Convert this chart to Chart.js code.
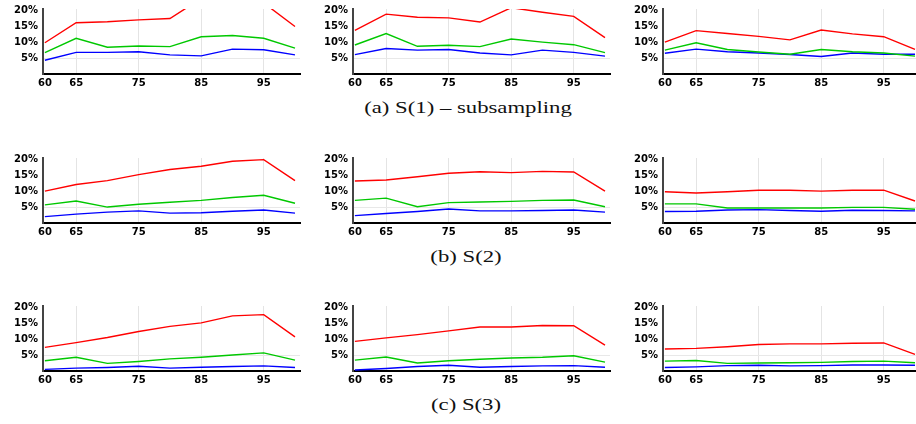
<!DOCTYPE html>
<html>
<head>
<meta charset="utf-8">
<script src="https://cdn.jsdelivr.net/npm/chart.js@4"></script>
<style>
  body { margin: 0; width: 916px; height: 424px; overflow: hidden; background: #fff; position: relative; }
  canvas { position: absolute; }
  .caption {
    position: absolute; width: 400px; text-align: center;
    font-family: "Liberation Serif", serif; font-size: 16px; line-height: 20px;
    color: #111; transform: scaleX(1.42); transform-origin: center;
  }
</style>
</head>
<body>
<div class="caption" style="left:268px;top:98px">(a) S(1) – subsampling</div>
<div class="caption" style="left:266px;top:247px">(b) S(2)</div>
<div class="caption" style="left:266px;top:395px">(c) S(3)</div>
<script>
const xValues = [60, 65, 70, 75, 80, 85, 90, 95, 100];
const xTicks = [60, 65, 75, 85, 95];
const yTicks = [5, 10, 15, 20];

// S(1) - subsampling
const s1_1_red   = [9.8, 16.1, 16.4, 17.0, 17.4, 23.7, 24.0, 22.3, 14.9];
const s1_1_green = [6.7, 11.2, 8.4, 8.8, 8.6, 11.7, 12.1, 11.2, 8.1];
const s1_1_blue  = [4.3, 6.8, 6.8, 7.0, 6.0, 5.7, 7.8, 7.6, 6.0];
const s1_2_red   = [13.7, 18.8, 17.8, 17.6, 16.3, 20.8, 19.4, 18.1, 11.4];
const s1_2_green = [9.1, 12.7, 8.7, 9.0, 8.6, 11.0, 10.0, 9.2, 6.7];
const s1_2_blue  = [6.1, 8.0, 7.5, 7.7, 6.6, 6.0, 7.5, 6.8, 5.6];
const s1_3_red   = [10.0, 13.6, 12.7, 11.8, 10.7, 13.8, 12.6, 11.7, 7.7];
const s1_3_green = [7.5, 9.8, 7.7, 6.9, 6.2, 7.7, 7.0, 6.6, 5.6];
const s1_3_blue  = [6.5, 7.8, 7.0, 6.6, 6.1, 5.5, 6.6, 6.2, 6.2];

// S(2)
const s2_1_red   = [10.0, 12.1, 13.3, 15.2, 16.8, 17.8, 19.4, 19.9, 13.3];
const s2_1_green = [5.7, 6.9, 5.0, 5.9, 6.5, 7.1, 8.0, 8.7, 6.2];
const s2_1_blue  = [2.0, 2.8, 3.4, 3.8, 3.1, 3.2, 3.7, 4.1, 3.1];
const s2_2_red   = [13.2, 13.5, 14.5, 15.6, 16.1, 15.8, 16.2, 16.0, 10.0];
const s2_2_green = [7.1, 7.8, 5.1, 6.4, 6.6, 6.8, 7.1, 7.2, 5.1];
const s2_2_blue  = [2.3, 3.0, 3.6, 4.4, 3.8, 3.8, 3.9, 4.1, 3.4];
const s2_3_red   = [9.8, 9.4, 9.8, 10.3, 10.3, 10.0, 10.3, 10.3, 6.9];
const s2_3_green = [6.0, 6.0, 4.7, 4.7, 4.7, 4.7, 4.9, 4.9, 4.3];
const s2_3_blue  = [3.6, 3.7, 4.1, 4.2, 3.9, 3.7, 4.0, 3.9, 3.8];

// S(3)
const s3_1_red   = [7.4, 8.9, 10.5, 12.4, 14.0, 15.1, 17.3, 17.7, 10.7];
const s3_1_green = [3.2, 4.3, 2.4, 3.0, 3.8, 4.3, 5.0, 5.7, 3.4];
const s3_1_blue  = [0.5, 0.9, 1.1, 1.5, 0.9, 1.2, 1.4, 1.6, 1.1];
const s3_2_red   = [9.3, 10.4, 11.4, 12.6, 13.8, 13.8, 14.3, 14.2, 8.1];
const s3_2_green = [3.4, 4.4, 2.5, 3.2, 3.7, 4.1, 4.3, 4.8, 2.8];
const s3_2_blue  = [0.3, 0.8, 1.4, 1.8, 1.2, 1.4, 1.6, 1.7, 1.2];
const s3_3_red   = [6.9, 7.1, 7.6, 8.3, 8.5, 8.5, 8.7, 8.8, 5.2];
const s3_3_green = [3.1, 3.3, 2.4, 2.5, 2.6, 2.7, 3.0, 3.1, 2.6];
const s3_3_blue  = [1.1, 1.3, 1.7, 1.8, 1.6, 1.7, 1.9, 1.9, 1.8];

const rows = [
  [[s1_1_red, s1_1_green, s1_1_blue], [s1_2_red, s1_2_green, s1_2_blue], [s1_3_red, s1_3_green, s1_3_blue]],
  [[s2_1_red, s2_1_green, s2_1_blue], [s2_2_red, s2_2_green, s2_2_blue], [s2_3_red, s2_3_green, s2_3_blue]],
  [[s3_1_red, s3_1_green, s3_1_blue], [s3_2_red, s3_2_green, s3_2_blue], [s3_3_red, s3_3_green, s3_3_blue]],
];
const colors = ['#ff0000', '#00c800', '#0000ff'];

// layout of the plot areas (y axis line x, top / bottom of the plot)
const colX = [43, 353, 663];
const rowTop = [8, 157, 305];
const rowBottom = [74, 223, 371];
const axisW = 40, axisH = 20, padTop = 10, padRight = 10, plotW = 257;

const tickFont = { family: 'DejaVu Sans', weight: 'bold', size: 10 };

rows.forEach((row, r) => {
  row.forEach((series, c) => {
    const canvas = document.createElement('canvas');
    const w = axisW + plotW + padRight;
    const h = padTop + (rowBottom[r] - rowTop[r]) + axisH;
    canvas.width = w;
    canvas.height = h;
    canvas.style.left = (colX[c] - axisW) + 'px';
    canvas.style.top = (rowTop[r] - padTop) + 'px';
    document.body.appendChild(canvas);

    new Chart(canvas, {
      type: 'line',
      data: {
        datasets: series.map((vals, i) => ({
          data: xValues.map((x, k) => ({ x, y: vals[k] })),
          borderColor: colors[i],
          borderWidth: 1.4,
          pointRadius: 0,
          tension: 0,
        })),
      },
      options: {
        responsive: false,
        animation: false,
        devicePixelRatio: 1,
        layout: { padding: { top: padTop, right: padRight, left: 0, bottom: 0 } },
        plugins: { legend: { display: false }, tooltip: { enabled: false } },
        scales: {
          x: {
            type: 'linear',
            min: 59.7,
            max: 100.8,
            afterBuildTicks: (s) => { s.ticks = xTicks.map((v) => ({ value: v })); },
            afterFit: (s) => { s.height = axisH; },
            grid: {
              color: (ctx) => (ctx.tick && ctx.tick.value === 60 ? 'rgba(0,0,0,0)' : '#e4e4e4'),
              drawTicks: false,
            },
            border: { color: '#000', width: 2 },
            ticks: { color: '#000', font: tickFont, padding: 3, maxRotation: 0, autoSkip: false },
          },
          y: {
            min: 0,
            max: 20.4,
            afterBuildTicks: (s) => { s.ticks = yTicks.map((v) => ({ value: v })); },
            afterFit: (s) => { s.width = axisW; },
            grid: {
              color: (ctx) => (ctx.tick && ctx.tick.value === 5 ? '#e8e8e8' : 'rgba(0,0,0,0)'),
              drawTicks: false,
            },
            border: { color: '#444', width: 2 },
            ticks: { color: '#000', font: tickFont, padding: 5, callback: (v) => v + '%' },
          },
        },
      },
    });
  });
});
</script>
</body>
</html>
